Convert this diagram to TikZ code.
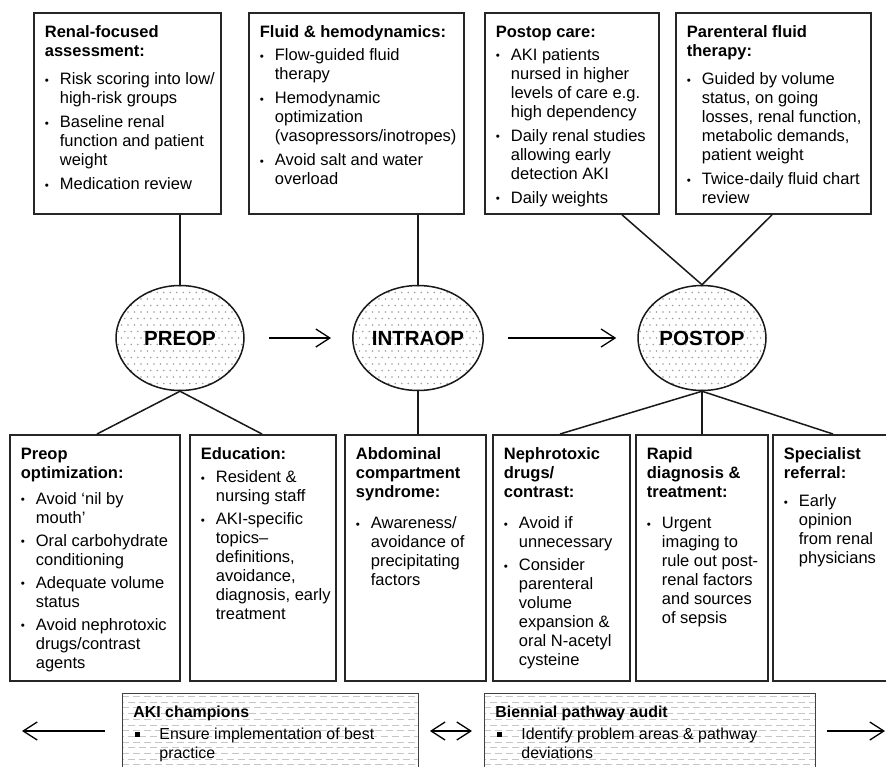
\documentclass[tikz,border=0pt]{standalone}
\usepackage{fontspec}
\setmainfont{Liberation Sans}
\usepackage{graphicx}
\usepackage{tikz}
\usetikzlibrary{calc, shapes.geometric, positioning, arrows.meta}

% small round bullet and bullet lines for the boxes
\newcommand{\blt}{\raisebox{0.8pt}{\scalebox{0.7}{\textbullet}}}
\newcommand{\itm}[2][5pt]{\par\vspace{#1}\hangindent=15pt\hangafter=1\noindent\makebox[15pt][l]{\blt}#2}
\newcommand{\sqitm}[2][3pt]{\par\vspace{#1}\hangindent=26pt\hangafter=1\noindent\hspace*{2pt}\makebox[24pt][l]{\rule[3pt]{4.5pt}{4.5pt}}#2}
% fixed size box body, text from the top
\newcommand{\cardtext}[3]{\parbox[c][#2][t]{#1}{\leftskip=11pt\rightskip=0pt plus 1fil\parfillskip=0pt plus 1fil%
  \hyphenpenalty=10000\exhyphenpenalty=10000\vspace*{13pt}#3}}

\begin{document}
\begin{tikzpicture}[x=1pt, y=-1pt,
    card/.style={draw=black!85, line width=1.8pt, inner sep=0pt, anchor=north west,
        fill=white, font=\fontsize{16.5}{19}\selectfont},
    band/.style={draw=black!75, line width=0.9pt, inner sep=0pt, anchor=north west,
        fill=white, font=\fontsize{15.9}{19}\selectfont,
        path picture={\foreach \k [evaluate=\k as \ph using {int(mod(\k,2))*5}] in {0,...,16}{
            \draw[gray!45, line width=0.8pt, dash pattern=on 7pt off 4pt, dash phase=\ph pt]
              ([yshift={-3pt-\k*5.7pt}]path picture bounding box.north west) --
              ([yshift={-3pt-\k*5.7pt}]path picture bounding box.north east);}}},
    stage/.style={ellipse, draw=black!90, line width=1.5pt, fill=white,
        minimum width=128pt, minimum height=105pt, inner sep=0pt,
        font=\fontsize{20.5}{24}\selectfont\bfseries,
        path picture={\foreach \j [evaluate=\j as \off using {0.5*mod(\j+20,2)}] in {-9,...,9}{
            \foreach \i in {-11,...,11}{
              \fill[gray!75] ([shift={({(\i+\off)*6.5pt},{\j*6.5pt})}]path picture bounding box.center)
                circle[radius=0.8pt];}}}},
    link/.style={line width=1.5pt, draw=black!90},
    flow/.style={-{Straight Barb[length=14pt, width=18pt, line width=1.3pt]}, line width=1.3pt},
    flow2/.style={{Straight Barb[length=14pt, width=18pt, line width=1.3pt]}-{Straight Barb[length=14pt, width=18pt, line width=1.3pt]}, line width=1.3pt}]

    \useasboundingbox (0,0) rectangle (886,766);

    % =================================================================
    % 1. THE THREE PHASES
    % =================================================================
    \node[stage] (preop) at (180,338) {PREOP};
    \node[stage] (intraop) at (418,338) {INTRAOP};
    \node[stage] (postop) at (702,338) {POSTOP};

    \draw[flow, shorten <=24pt, shorten >=21pt] (preop) -- (intraop);
    \draw[flow, shorten <=24pt, shorten >=21pt] (intraop) -- (postop);

    % =================================================================
    % 2. BOXES ABOVE THE PHASES
    % =================================================================
    \node[card] (rfa) at (33,12) {\cardtext{187pt}{201pt}{%
        \textbf{Renal-focused\\assessment:}
        \itm[9pt]{Risk scoring into low/\\high-risk groups}
        \itm{Baseline renal\\function and patient\\weight}
        \itm{Medication review}}};
    \node[card] (fluid) at (248,12) {\cardtext{215pt}{201pt}{%
        \textbf{Fluid \& hemodynamics:}
        \itm[4pt]{Flow-guided fluid\\therapy}
        \itm{Hemodynamic\\optimization\\(vasopressors/inotropes)}
        \itm{Avoid salt and water\\overload}}};
    \node[card] (care) at (484,12) {\cardtext{174pt}{201pt}{%
        \textbf{Postop care:}
        \itm[4pt]{AKI patients\\nursed in higher\\levels of care e.g.\\high dependency}
        \itm{Daily renal studies\\allowing early\\detection AKI}
        \itm{Daily weights}}};
    \node[card] (pft) at (675,12) {\cardtext{195pt}{201pt}{%
        \textbf{Parenteral fluid\\therapy:}
        \itm[9pt]{Guided by volume\\status, on going\\losses, renal function,\\metabolic demands,\\patient weight}
        \itm{Twice-daily fluid chart\\review}}};

    \draw[link] (rfa.south -| preop) -- (preop);
    \draw[link] (fluid.south -| intraop) -- (intraop);
    \draw[link] ([xshift=138pt]care.south west) -- (postop.north);
    \draw[link] ([xshift=97pt]pft.south west) -- (postop.north);

    % =================================================================
    % 3. BOXES BELOW THE PHASES
    % =================================================================
    \node[card] (popt) at (9,434) {\cardtext{170pt}{246pt}{%
        \textbf{Preop\\optimization:}
        \itm[7pt]{Avoid ‘nil by\\mouth’}
        \itm[4pt]{Oral carbohydrate\\conditioning}
        \itm[4pt]{Adequate volume\\status}
        \itm[4pt]{Avoid nephrotoxic\\drugs/contrast\\agents}}};
    \node[card] (edu) at (189,434) {\cardtext{146pt}{246pt}{%
        \textbf{Education:}
        \itm[4pt]{Resident \&\\nursing staff}
        \itm[4pt]{AKI-specific\\topics–\\definitions,\\avoidance,\\diagnosis, early\\treatment}}};
    \node[card] (acs) at (344,434) {\cardtext{141pt}{246pt}{%
        \textbf{Abdominal\\compartment\\syndrome:}
        \itm[12pt]{Awareness/\\avoidance of\\precipitating\\factors}}};
    \node[card] (neph) at (492,434) {\cardtext{137pt}{246pt}{%
        \textbf{Nephrotoxic\\drugs/\\contrast:}
        \itm[12pt]{Avoid if\\unnecessary}
        \itm[4pt]{Consider\\parenteral\\volume\\expansion \&\\oral N-acetyl\\cysteine}}};
    \node[card] (rapid) at (635,434) {\cardtext{132pt}{246pt}{%
        \textbf{Rapid\\diagnosis \&\\treatment:}
        \itm[12pt]{Urgent\\imaging to\\rule out post-\\renal factors\\and sources\\of sepsis}}};
    \node[card] (spec) at (772,434) {\cardtext{130pt}{246pt}{%
        \textbf{Specialist\\referral:}
        \itm[9pt]{Early\\opinion\\from renal\\physicians}}};

    \draw[link] (preop.south) -- ([xshift=88pt]popt.north west);
    \draw[link] (preop.south) -- ([xshift=73pt]edu.north west);
    \draw[link] (intraop.south) -- (acs.north -| intraop);
    \draw[link] (postop.south) -- ([xshift=68pt]neph.north west);
    \draw[link] (postop.south) -- (rapid.north -| postop);
    \draw[link] (postop.south) -- ([xshift=61pt]spec.north west);

    % =================================================================
    % 4. ONGOING ACTIONS ALONG THE BOTTOM
    % =================================================================
    \node[band] (champ) at (122,693) {\cardtext{296pt}{90pt}{%
        \textbf{AKI champions}
        \sqitm{Ensure implementation of best\\practice}}};
    \node[band] (audit) at (484,693) {\cardtext{331pt}{90pt}{%
        \textbf{Biennial pathway audit}
        \sqitm{Identify problem areas \& pathway\\deviations}}};

    \coordinate (leftend) at (22,731);
    \coordinate (rightend) at (885,731);
    \draw[flow, shorten <=17pt] (champ.west |- leftend) -- (leftend);
    \draw[flow2, shorten <=11pt, shorten >=12pt] (champ.east |- leftend) -- (audit.west |- leftend);
    \draw[flow, shorten <=11pt] (audit.east |- rightend) -- (rightend);

\end{tikzpicture}
\end{document}
